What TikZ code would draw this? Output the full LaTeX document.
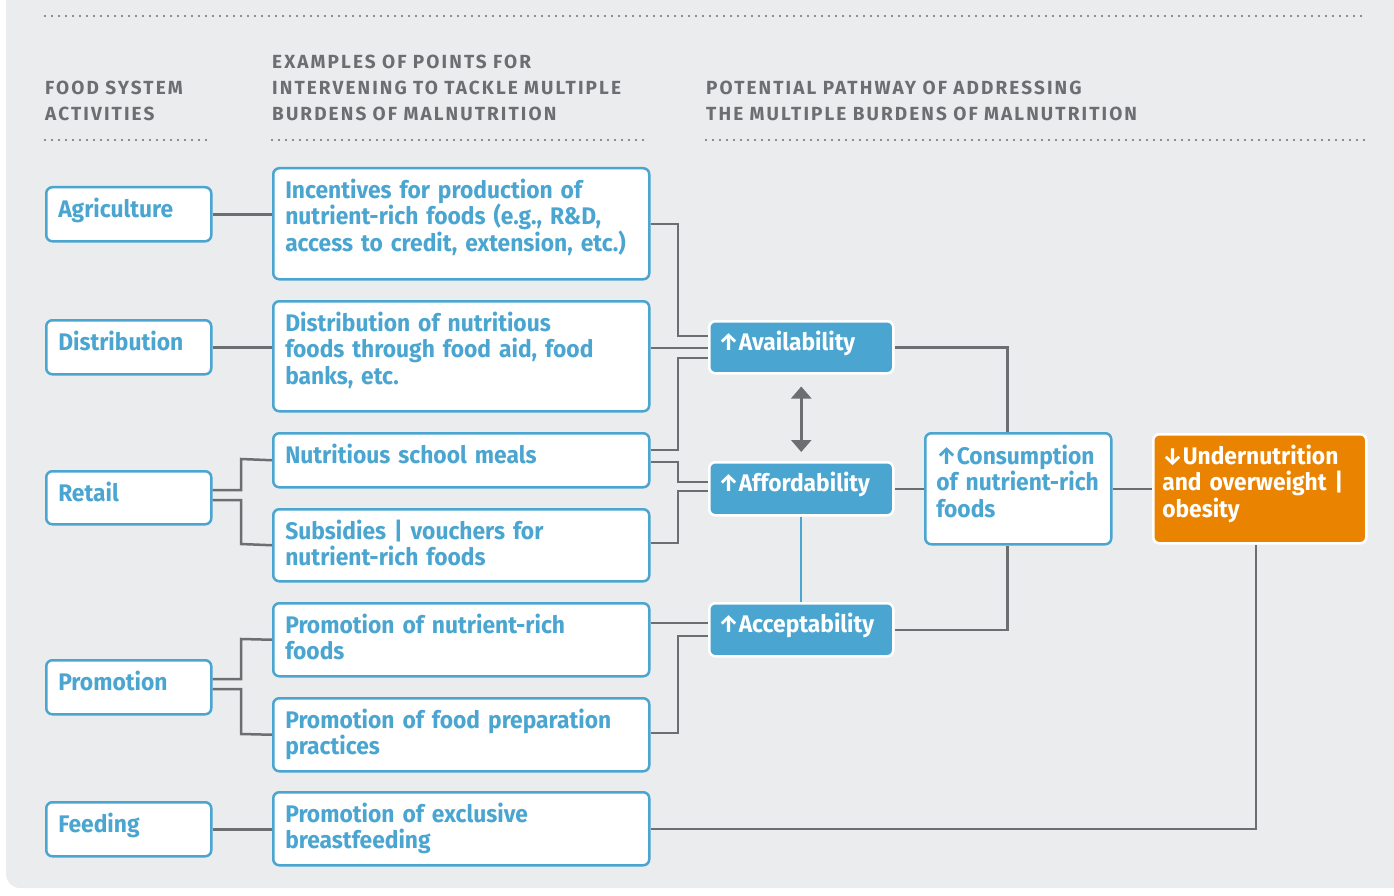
\documentclass[tikz,border=0pt]{standalone}
\usepackage{fontspec}
\setmainfont{Fira Sans}[FakeStretch=0.95]
\newfontfamily\headfont{Fira Sans}[LetterSpace=11]
\usetikzlibrary{arrows.meta,calc}
\definecolor{fsblue}{HTML}{4AA5D0}
\definecolor{fsgray}{HTML}{6D6E71}
\definecolor{panel}{HTML}{EBECEE}
\definecolor{fsorange}{HTML}{E98300}
\newcommand{\uparr}{{\bfseries\char"2191}}
\newcommand{\downarr}{{\bfseries\char"2193}}
\tikzset{
  card/.style={anchor=north west, draw=fsblue, fill=white, text=fsblue, line width=2.5pt,
    rounded corners=6pt, inner xsep=12pt, inner ysep=0pt, text height=30pt, align=left,
    font=\fontsize{24}{26.7}\selectfont\bfseries},
  actbox/.style={card, text width=141pt},
  pointbox/.style={card, text width=352pt},
  pathbox/.style={card, fill=fsblue, draw=white, text=white, inner xsep=9pt,
    text width=166pt, text height=29pt},
  head/.style={anchor=north west, inner sep=0pt, text=fsgray, text width=540pt, align=left,
    text height=13pt, font=\fontsize{19}{26}\selectfont\headfont\bfseries},
  tall/.style={text depth=#1},
  link/.style={draw=fsgray, line width=2.5pt},
  dots/.style={draw=fsgray, line width=2.2pt, line cap=round, dash pattern=on 0pt off 7pt},
}
\begin{document}
\begin{tikzpicture}[x=1pt,y=-1pt]
\path[use as bounding box, clip] (0,0) rectangle (1394,896);
\fill[panel, rounded corners=14pt] (6,-40) rectangle (1430,888);

% column heads
\draw[dots] (45,16) -- (1368,16);
\node[head] (hact) at (45,81) {FOOD SYSTEM\\ACTIVITIES};
\node[head] (hpts) at (272,55) {EXAMPLES OF POINTS FOR\\INTERVENING TO TACKLE MULTIPLE\\BURDENS OF MALNUTRITION};
\node[head] (hpath) at (706,81) {POTENTIAL PATHWAY OF ADDRESSING\\THE MULTIPLE BURDENS OF MALNUTRITION};
\draw[dots] (45,140) -- (210,140);
\draw[dots] (272,140) -- (650,140);
\draw[dots] (706,140) -- (1368,140);

% food system activities
\node[actbox, tall=24pt] (agri) at (45,186) {Agriculture};
\node[actbox, tall=24pt] (distr) at (45,319) {Distribution};
\node[actbox, tall=23pt] (retail) at (45,470) {Retail};
\node[actbox, tall=24pt] (promo) at (45,659) {Promotion};
\node[actbox, tall=24pt] (feed) at (45,801) {Feeding};

% points for intervening
\node[pointbox, tall=81pt] (incent) at (272,167) {Incentives for production of\\nutrient-rich foods (e.g., R\&D,\\access to credit, extension, etc.)};
\node[pointbox, tall=80pt] (aid) at (272,300) {Distribution of nutritious\\foods through food aid, food\\banks, etc.};
\node[pointbox, tall=24pt] (meals) at (272,432) {Nutritious school meals};
\node[pointbox, tall=42pt] (subs) at (272,508) {Subsidies | vouchers for\\nutrient-rich foods};
\node[pointbox, tall=43pt] (promnut) at (272,602) {Promotion of nutrient-rich\\foods};
\node[pointbox, tall=43pt] (promprep) at (272,697) {Promotion of food preparation\\practices};
\node[pointbox, tall=43pt] (breast) at (272,791) {Promotion of exclusive\\breastfeeding};

% pathway
\node[pathbox, tall=23pt] (avail) at (708,320) {\uparr Availability};
\node[pathbox, tall=24pt] (afford) at (708,461) {\uparr Affordability};
\node[pathbox, tall=24pt] (accept) at (708,602) {\uparr Acceptability};
\node[card, inner xsep=11pt, text width=164pt, text height=31pt, tall=80pt] (consum) at (924,432)
  {\uparr Consumption\\of nutrient-rich\\foods};
\node[card, fill=fsorange, draw=white, text=white, inner xsep=9pt, text width=195pt, tall=79pt] (under) at (1152,433)
  {\downarr Undernutrition\\and overweight |\\obesity};

% activities to points
\draw[link] (agri.east) -- (agri.east -| incent.west);
\draw[link] (distr.east) -- (distr.east -| aid.west);
\draw[link] (retail.east |- 0,490) -| (241,459) -- (meals.west);
\draw[link] (retail.east |- 0,500) -| (241,544) -- (subs.west);
\draw[link] (promo.east |- 0,679) -| (241,639) -- (promnut.west);
\draw[link] (promo.east |- 0,689) -| (241,734) -- (promprep.west);
\draw[link] (feed.east) -- (feed.east -| breast.west);

% points to pathway
\draw[link] (incent.east) -| (678,336) -- (avail.west |- 0,336);
\draw[link] (aid.east |- 0,348) -- (avail.west |- 0,348);
\draw[link] (meals.east |- 0,450) -| (678,358) -- (avail.west |- 0,358);
\draw[link] (meals.east |- 0,462) -| (678,482) -- (afford.west |- 0,482);
\draw[link] (subs.east |- 0,543) -| (678,491) -- (afford.west |- 0,491);
\draw[link] (promnut.east |- 0,623) -- (accept.west |- 0,623);
\draw[link] (promprep.east |- 0,733) -| (678,636) -- (accept.west |- 0,636);
\draw[link] (breast.east) -| ([xshift=-4pt]under.south);

\draw[link, {Triangle[width=20pt,length=12pt]}-{Triangle[width=20pt,length=12pt]}]
  ($(avail.south)+(0,12)$) -- ($(afford.north)+(0,-9)$);
\draw[fsblue, line width=2pt] (afford.south) -- (accept.north);

\draw[link] (avail.east) -| ([xshift=-11pt]consum.north);
\draw[link] (afford.east) -- (consum.west);
\draw[link] (accept.east) -| ([xshift=-11pt]consum.south);
\draw[link] (consum.east) -- (under.west);
\end{tikzpicture}
\end{document}
